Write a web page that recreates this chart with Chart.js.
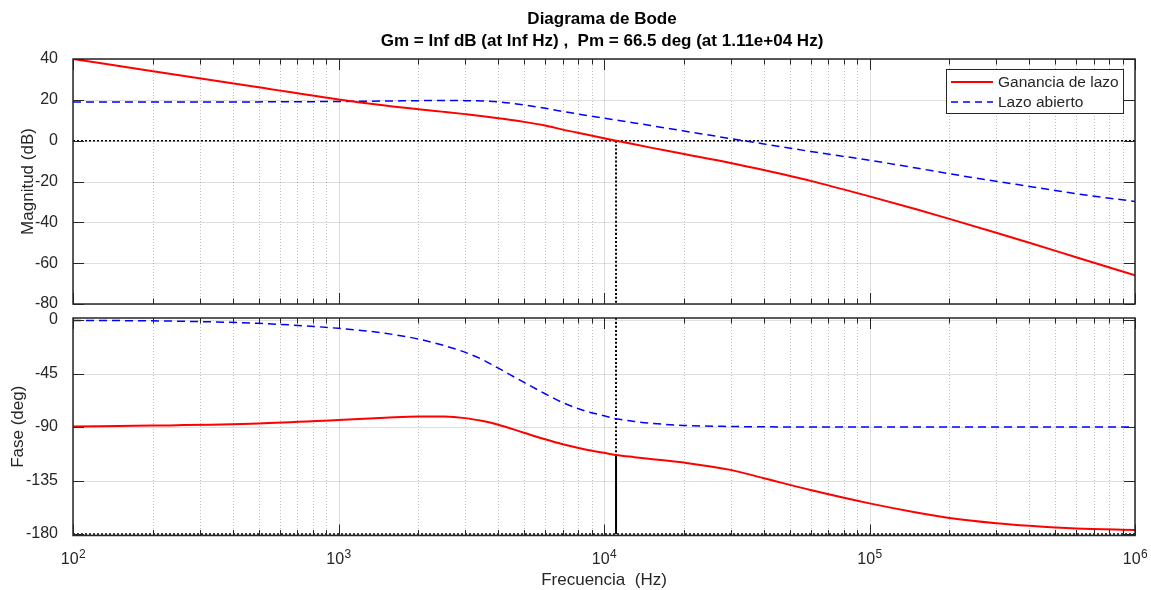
<!DOCTYPE html>
<html>
<head>
<meta charset="utf-8">
<script src="https://cdn.jsdelivr.net/npm/chart.js@4.4.1/dist/chart.umd.min.js"></script>
<style>
  html, body { margin: 0; padding: 0; background: #fff; }
  #wrap { position: relative; width: 1151px; height: 590px; }
  #wrap canvas { position: absolute; left: 0; top: 0; }
</style>
</head>
<body>
<div id="wrap">
  <canvas id="magChart" width="1151" height="590"></canvas>
  <canvas id="phaseChart" width="1151" height="590"></canvas>
</div>
<script>
// frecuencias (Hz) donde se leyeron las curvas
var freqs = [100, 200, 500, 1000, 1500, 2000, 2500, 3000, 3500, 4000, 5000, 6000, 7000, 8500,
             10000, 11100, 13000, 15000, 20000, 30000, 40000, 60000,
             100000, 150000, 200000, 300000, 400000, 600000, 1000000];

// magnitud (dB)
var magLazo    = [40, 34, 26.2, 20.2, 17.2, 15.4, 14.1, 13.0, 12.0, 11.0, 9.2, 7.4, 5.4, 3.1,
                  1.2, 0, -1.8, -3.4, -6.5, -10.9, -14.4, -19.7,
                  -27.3, -33.6, -38.3, -45.1, -50, -57.1, -66];
var magAbierto = [19.0, 19.0, 19.0, 19.2, 19.4, 19.6, 19.7, 19.6, 19.4, 19.0, 17.5, 15.9, 14.3, 12.5,
                  11.0, 10.1, 8.7, 7.4, 4.75, 1.0, -1.6, -5.3,
                  -9.6, -13.4, -16.2, -19.9, -22.4, -26.0, -29.8];

// fase (deg)
var faseLazo    = [-89.5, -88.8, -87.1, -84.1, -82.2, -81.1, -81.2, -82.5, -85.0, -88.0, -94.8, -100.3, -104.5, -108.8,
                   -111.7, -113.5, -115.3, -116.8, -119.9, -126, -133, -143,
                   -154.2, -161.8, -166.4, -170.8, -173, -175.3, -176.6];
var faseAbierto = [-0.4, -0.7, -2.8, -7, -11.2, -16, -21.5, -27.2, -33.5, -40.5, -52.5, -62, -69.5, -76.5,
                   -80.5, -83, -85.3, -86.8, -88.6, -89.5, -89.8, -90,
                   -90, -90, -90, -90, -90, -90, -90];

// margen de fase
var pmFreq = 11100;
var pmFase = -113.5;

// ejes
var xDecadas = [1e2, 1e3, 1e4, 1e5, 1e6];
var xExponentes = ['2', '3', '4', '5', '6'];
var magTicks = [-80, -60, -40, -20, 0, 20, 40];
var faseTicks = [-180, -135, -90, -45, 0];
var magMin = -80, magMax = 40;
var faseMin = -181.2, faseMax = 1.7;

var serieNombres = ['Ganancia de lazo', 'Lazo abierto'];
var titulo1 = 'Diagrama de Bode';
var titulo2 = 'Gm = Inf dB (at Inf Hz) ,  Pm = 66.5 deg (at 1.11e+04 Hz)';

var FUENTE = "'Liberation Sans', Arial, Helvetica, sans-serif";
var TINTA = '#262626';
Chart.defaults.font.family = FUENTE;
Chart.defaults.color = TINTA;
Chart.defaults.animation = false;

function puntos(ys) {
  return freqs.map(function (f, i) { return { x: f, y: ys[i] }; });
}

function trazo(ctx, x1, y1, x2, y2) {
  ctx.beginPath(); ctx.moveTo(x1, y1); ctx.lineTo(x2, y2); ctx.stroke();
}

var menores = [];
xDecadas.slice(0, -1).forEach(function (d) {
  for (var k = 2; k <= 9; k++) menores.push(d * k);
});

var rojo = { borderColor: '#ff0000', borderWidth: 2 };
var azul = { borderColor: '#0000ff', borderWidth: 1.5, borderDash: [8, 5] };

// rejilla, marcas hacia dentro, caja y titulo del eje y
var ejesBode = {
  id: 'ejesBode',
  beforeDatasetsDraw: function (chart, args, o) {
    var ctx = chart.ctx, a = chart.chartArea, xs = chart.scales.x, ys = chart.scales.y;
    ctx.save();
    ctx.lineWidth = 1;
    ctx.strokeStyle = 'rgba(38,38,38,0.3)';
    ctx.setLineDash([1, 2]);
    menores.forEach(function (f) {
      var px = Math.round(xs.getPixelForValue(f)) + 0.5;
      trazo(ctx, px, a.top, px, a.bottom);
    });
    ctx.setLineDash([]);
    ctx.strokeStyle = 'rgba(38,38,38,0.15)';
    xDecadas.forEach(function (f) {
      var px = Math.round(xs.getPixelForValue(f)) + 0.5;
      trazo(ctx, px, a.top, px, a.bottom);
    });
    o.yTicks.forEach(function (v) {
      var py = Math.round(ys.getPixelForValue(v)) + 0.5;
      trazo(ctx, a.left, py, a.right, py);
    });
    ctx.restore();
  },
  afterDatasetsDraw: function (chart, args, o) {
    var ctx = chart.ctx, a = chart.chartArea, xs = chart.scales.x, ys = chart.scales.y;
    ctx.save();
    ctx.strokeStyle = TINTA;
    ctx.lineWidth = 1;
    menores.forEach(function (f) {
      var px = Math.round(xs.getPixelForValue(f)) + 0.5;
      trazo(ctx, px, a.bottom, px, a.bottom - 5.5);
      trazo(ctx, px, a.top, px, a.top + 5.5);
    });
    xDecadas.forEach(function (f) {
      var px = Math.round(xs.getPixelForValue(f)) + 0.5;
      trazo(ctx, px, a.bottom, px, a.bottom - 11);
      trazo(ctx, px, a.top, px, a.top + 11);
    });
    o.yTicks.forEach(function (v) {
      var py = Math.round(ys.getPixelForValue(v)) + 0.5;
      trazo(ctx, a.left, py, a.left + 11, py);
      trazo(ctx, a.right, py, a.right - 11, py);
    });
    ctx.lineWidth = 1.5;
    ctx.strokeRect(a.left, a.top, a.right - a.left, a.bottom - a.top);

    ctx.fillStyle = TINTA;
    ctx.font = '17px ' + FUENTE;
    ctx.textAlign = 'center';
    ctx.textBaseline = 'middle';
    ctx.translate(o.yTitleX, (a.top + a.bottom) / 2);
    ctx.rotate(-Math.PI / 2);
    ctx.fillText(o.yTitle, 0, 0);
    ctx.restore();
  }
};

// titulo y leyenda (grafico de magnitud)
var tituloLeyenda = {
  id: 'tituloLeyenda',
  afterDraw: function (chart) {
    var ctx = chart.ctx;
    ctx.save();
    ctx.fillStyle = '#000';
    ctx.font = 'bold 17px ' + FUENTE;
    ctx.textAlign = 'center';
    ctx.textBaseline = 'alphabetic';
    ctx.fillText(titulo1, 602, 23.5);
    ctx.fillText(titulo2, 602, 46);

    // leyenda
    var bx = 946, by = 69.5, bw = 177, bh = 44;
    ctx.fillStyle = '#fff';
    ctx.fillRect(bx, by, bw, bh);
    ctx.strokeStyle = TINTA;
    ctx.lineWidth = 1;
    ctx.strokeRect(bx + 0.5, by, bw, bh);
    var filas = [82, 102];
    ctx.font = '15.5px ' + FUENTE;
    ctx.textAlign = 'left';
    ctx.textBaseline = 'middle';
    [0, 1].forEach(function (i) {
      var ds = chart.data.datasets[i];
      ctx.strokeStyle = ds.borderColor;
      ctx.lineWidth = ds.borderWidth;
      ctx.setLineDash(i === 1 ? [7, 5] : []);
      trazo(ctx, 951, filas[i], 993, filas[i]);
      ctx.setLineDash([]);
      ctx.fillStyle = TINTA;
      ctx.fillText(ds.label, 998, filas[i] + 1);
    });
    ctx.restore();
  }
};

// etiquetas 10^n y titulo del eje x (grafico de fase)
var ejeFrecuencia = {
  id: 'ejeFrecuencia',
  afterDraw: function (chart) {
    var ctx = chart.ctx, xs = chart.scales.x, a = chart.chartArea;
    ctx.save();
    ctx.fillStyle = TINTA;
    ctx.textBaseline = 'alphabetic';
    ctx.textAlign = 'left';
    xDecadas.forEach(function (f, i) {
      var px = xs.getPixelForValue(f);
      ctx.font = '16px ' + FUENTE;
      var w1 = ctx.measureText('10').width;
      ctx.font = '12px ' + FUENTE;
      var w2 = ctx.measureText(xExponentes[i]).width;
      var x0 = px - (w1 + w2) / 2;
      ctx.font = '16px ' + FUENTE;
      ctx.fillText('10', x0, 564);
      ctx.font = '12px ' + FUENTE;
      ctx.fillText(xExponentes[i], x0 + w1 + 0.5, 557.5);
    });
    ctx.font = '17px ' + FUENTE;
    ctx.textAlign = 'center';
    ctx.fillText('Frecuencia  (Hz)', (a.left + a.right) / 2, 585);
    ctx.restore();
  }
};

function escalaX() {
  return {
    type: 'logarithmic', min: xDecadas[0], max: xDecadas[xDecadas.length - 1],
    ticks: { display: false }, grid: { display: false }, border: { display: false },
    afterFit: function (s) { s.height = 0; }
  };
}

function escalaY(min, max, ticks) {
  return {
    min: min, max: max,
    grid: { display: false }, border: { display: false },
    ticks: { font: { size: 16 }, color: TINTA, padding: 7, autoSkip: false },
    afterBuildTicks: function (s) { s.ticks = ticks.map(function (v) { return { value: v }; }); },
    afterFit: function (s) { s.width = 73; }
  };
}

function linea(label, data, estilo, extra) {
  return Object.assign({ label: label, data: data, pointRadius: 0, fill: false,
    cubicInterpolationMode: 'monotone' }, estilo, extra || {});
}

var punteado = { borderColor: '#000', borderWidth: 1.5, borderDash: [2, 2], tension: 0 };

new Chart(document.getElementById('magChart'), {
  type: 'line',
  data: {
    datasets: [
      linea(serieNombres[0], puntos(magLazo), rojo),
      linea(serieNombres[1], puntos(magAbierto), azul),
      linea('0 dB', [{ x: xDecadas[0], y: 0 }, { x: xDecadas[4], y: 0 }], punteado),
      linea('pm', [{ x: pmFreq, y: 0 }, { x: pmFreq, y: magMin }], punteado, { borderWidth: 2 })
    ]
  },
  options: {
    responsive: false,
    layout: { padding: { top: 59, right: 16, bottom: 286, left: 0 } },
    plugins: {
      legend: { display: false }, tooltip: { enabled: false },
      ejesBode: { yTicks: magTicks, yTitle: 'Magnitud (dB)', yTitleX: 28.5 }
    },
    scales: { x: escalaX(), y: escalaY(magMin, magMax, magTicks) }
  },
  plugins: [ejesBode, tituloLeyenda]
});

new Chart(document.getElementById('phaseChart'), {
  type: 'line',
  data: {
    datasets: [
      linea(serieNombres[0], puntos(faseLazo), rojo),
      linea(serieNombres[1], puntos(faseAbierto), azul),
      linea('-180', [{ x: xDecadas[0], y: -180 }, { x: xDecadas[4], y: -180 }], punteado),
      linea('pm sup', [{ x: pmFreq, y: faseMax }, { x: pmFreq, y: pmFase }], punteado, { borderWidth: 2 }),
      linea('pm', [{ x: pmFreq, y: pmFase }, { x: pmFreq, y: -180 }],
            { borderColor: '#000', borderWidth: 2, tension: 0 })
    ]
  },
  options: {
    responsive: false,
    layout: { padding: { top: 318, right: 16, bottom: 54.5, left: 0 } },
    plugins: {
      legend: { display: false }, tooltip: { enabled: false },
      ejesBode: { yTicks: faseTicks, yTitle: 'Fase (deg)', yTitleX: 18.5 }
    },
    scales: { x: escalaX(), y: escalaY(faseMin, faseMax, faseTicks) }
  },
  plugins: [ejesBode, ejeFrecuencia]
});
</script>
</body>
</html>
